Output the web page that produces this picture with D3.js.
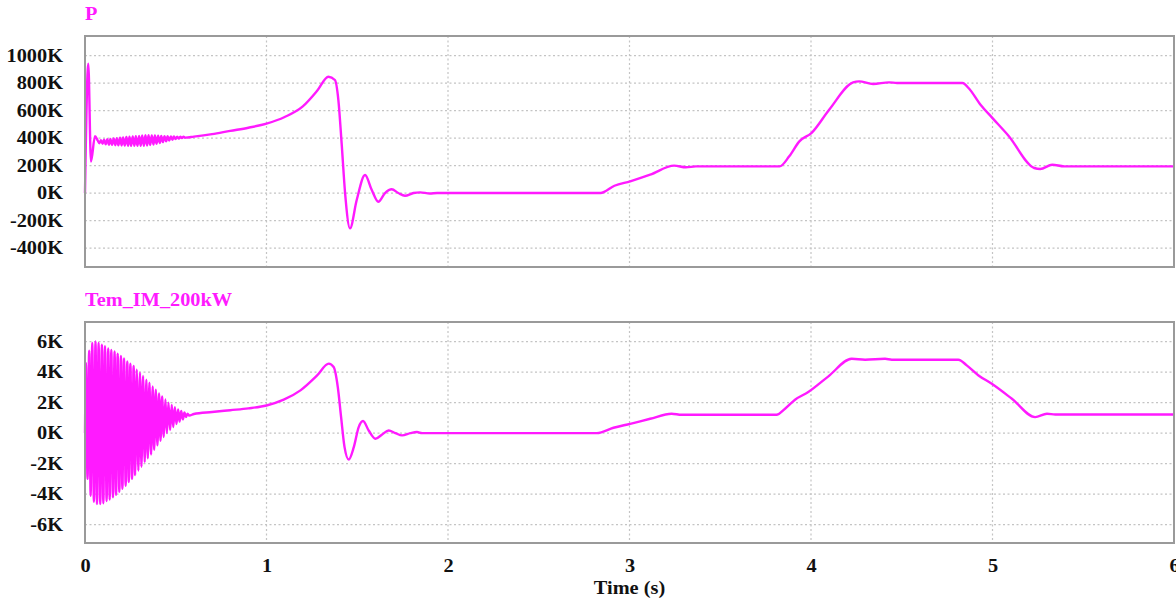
<!DOCTYPE html>
<html>
<head>
<meta charset="utf-8">
<script src="https://cdn.jsdelivr.net/npm/d3@7"></script>
<style>
  html, body { margin: 0; padding: 0; background: #ffffff; }
  svg { display: block; }
  text { font-family: "Liberation Serif", "Times New Roman", serif; font-weight: bold; }
</style>
</head>
<body>
<svg id="chart" width="1176" height="601"></svg>
<script>
// ---- time axis ----
const timeTicks = [0, 1, 2, 3, 4, 5, 6];

// ---- P (W): start-up spike ----
const pStartT = [0, 0.018, 0.033, 0.055];
const pStartV = [0, 940000, 229000, 414000];

// ---- P: ripple extremes during start-up ----
const pRippleT = [0.070, 0.079, 0.088, 0.097, 0.105, 0.114, 0.123, 0.132, 0.140, 0.149,
                  0.158, 0.167, 0.175, 0.184, 0.193, 0.202, 0.210, 0.219, 0.228, 0.237,
                  0.245, 0.254, 0.263, 0.272, 0.280, 0.289, 0.298, 0.307, 0.315, 0.324,
                  0.333, 0.342, 0.350, 0.359, 0.368, 0.377, 0.385, 0.394, 0.403, 0.412,
                  0.420, 0.429, 0.438, 0.447, 0.455, 0.464, 0.473, 0.482, 0.490, 0.499,
                  0.508, 0.517, 0.525, 0.534, 0.543, 0.552];
const pRippleV = [382, 362, 385, 358, 388, 355, 391, 352, 394, 350,
                  397, 348, 399, 347, 402, 346, 404, 345, 407, 344,
                  409, 344, 412, 343, 414, 343, 416, 343, 418, 344,
                  420, 346, 420, 349, 419, 353, 418, 358, 417, 364,
                  415, 370, 413, 376, 413, 382, 412, 388, 411, 392,
                  410, 396, 409, 400, 409, 403].map(v => v * 1000);

// ---- P: remainder of the run ----
const pMainT = [0.60, 0.70, 0.80, 0.90, 1.00, 1.10, 1.20, 1.28, 1.341, 1.377, 1.396, 1.414,
                1.433, 1.460, 1.497, 1.543, 1.580, 1.616, 1.653, 1.690, 1.726, 1.763, 1.810,
                1.846, 1.900, 1.940, 2.840, 2.917, 3.004, 3.114, 3.246, 3.311, 3.366, 3.827,
                3.880, 3.936, 4.002, 4.100, 4.232, 4.265, 4.342, 4.430, 4.474, 4.835, 4.868,
                4.934, 5.000, 5.088, 5.230, 5.263, 5.329, 5.395, 6.000];
const pMainV = [410, 428, 452, 475, 505, 553, 630, 745, 846, 822, 676, 361,
                0, -257, -51, 131, 22, -63, 0, 27, 0, -20, 0,
                5, -3, 0, 0, 53, 85, 133, 199, 187, 194, 194,
                267, 376, 436, 606, 805, 812, 793, 805, 800, 800, 764,
                642, 545, 417, 182, 175, 206, 194, 194].map(v => v * 1000);

// ---- Tem_IM_200kW (N·m): start-up oscillation extremes ----
const temOscT = [0, 0.005, 0.014, 0.023, 0.031, 0.040, 0.049, 0.058, 0.066, 0.075, 0.084,
                 0.093, 0.101, 0.110, 0.119, 0.128, 0.136, 0.145, 0.154, 0.163, 0.171,
                 0.180, 0.189, 0.198, 0.206, 0.215, 0.224, 0.233, 0.241, 0.250, 0.259,
                 0.268, 0.276, 0.285, 0.294, 0.303, 0.311, 0.320, 0.329, 0.338, 0.346,
                 0.355, 0.364, 0.373, 0.381, 0.390, 0.399, 0.408, 0.416, 0.425, 0.434,
                 0.443, 0.451, 0.460, 0.469, 0.478, 0.486, 0.495, 0.504, 0.513, 0.521,
                 0.530, 0.539, 0.548, 0.556, 0.565, 0.574];
const temOscV = [0, 4.6, -3.0, 5.4, -4.1, 5.9, -4.5, 6.0, -4.65, 5.9, -4.65,
                 5.8, -4.6, 5.7, -4.45, 5.55, -4.35, 5.45, -4.2, 5.35, -4.05,
                 5.2, -3.85, 5.05, -3.65, 4.9, -3.45, 4.7, -3.2, 4.55, -3.0,
                 4.4, -2.75, 4.15, -2.45, 3.95, -2.2, 3.75, -1.9, 3.5, -1.65,
                 3.3, -1.4, 3.05, -1.1, 2.85, -0.8, 2.6, -0.5, 2.4, -0.25,
                 2.2, 0.0, 2.0, 0.2, 1.85, 0.4, 1.7, 0.6, 1.55, 0.75,
                 1.45, 0.9, 1.35, 1.05, 1.28, 1.15].map(v => v * 1000);

// ---- Tem_IM_200kW: remainder of the run ----
const temMainT = [0.60, 0.70, 0.80, 0.90, 1.00, 1.095, 1.187, 1.279, 1.343, 1.370, 1.393,
                  1.411, 1.430, 1.453, 1.481, 1.508, 1.532, 1.563, 1.600, 1.637, 1.673,
                  1.710, 1.747, 1.793, 1.829, 1.857, 2.820, 2.912, 3.004, 3.114, 3.232,
                  3.287, 3.810, 3.857, 3.912, 3.985, 4.096, 4.224, 4.298, 4.408, 4.445,
                  4.812, 4.858, 4.923, 4.996, 5.107, 5.235, 5.300, 5.346, 6.000];
const temMainV = [1.25, 1.38, 1.50, 1.62, 1.81, 2.19, 2.80, 3.78, 4.55, 4.33, 3.0,
                  1.05, -0.92, -1.73, -0.92, 0.39, 0.79, 0.17, -0.37, -0.09, 0.17,
                  0, -0.15, 0, 0.07, 0, 0, 0.35, 0.61, 0.94, 1.27,
                  1.20, 1.20, 1.60, 2.19, 2.69, 3.72, 4.87, 4.81, 4.87, 4.81,
                  4.81, 4.44, 3.78, 3.23, 2.25, 1.05, 1.27, 1.22, 1.22].map(v => v * 1000);

// ---- y tick values ----
const pTicks = [-400000, -200000, 0, 200000, 400000, 600000, 800000, 1000000];
const temTicks = [-6000, -4000, -2000, 0, 2000, 4000, 6000];

const zip = (ts, vs) => ts.map((t, i) => ({ t, v: vs[i] }));
const pSeries = [].concat(zip(pStartT, pStartV), zip(pRippleT, pRippleV), zip(pMainT, pMainV));
const temSeries = [].concat(zip(temOscT, temOscV), zip(temMainT, temMainV));

const svg = d3.select("#chart");
const left = 85, right = 1174;
const lineColor = "#ff1aff";
const widen = 1.13;   // the labels use a slightly wide bold serif

const x = d3.scaleLinear().domain([0, 6]).range([left, right]);

const panels = [
  { title: "P", data: pSeries, ticks: pTicks, top: 36, bottom: 267,
    domain: [-538000, 1142000] },
  { title: "Tem_IM_200kW", data: temSeries, ticks: temTicks, top: 322, bottom: 543,
    domain: [-7200, 7280] }
];

const fmtK = d => (d / 1000) + "K";

panels.forEach((p, idx) => {
  const y = d3.scaleLinear().domain(p.domain).range([p.bottom, p.top]);
  const g = svg.append("g");

  // dotted grid
  g.append("g").selectAll("line.h").data(p.ticks).join("line")
    .attr("x1", left).attr("x2", right)
    .attr("y1", d => y(d)).attr("y2", d => y(d))
    .attr("stroke", "#c4c4c4").attr("stroke-width", 1.2)
    .attr("stroke-dasharray", "2,2.5");
  g.append("g").selectAll("line.v").data(timeTicks.slice(1, -1)).join("line")
    .attr("x1", d => x(d)).attr("x2", d => x(d))
    .attr("y1", p.top).attr("y2", p.bottom)
    .attr("stroke", "#c4c4c4").attr("stroke-width", 1.2)
    .attr("stroke-dasharray", "2,2.5");

  // y axis labels
  const yAxis = d3.axisLeft(y).tickValues(p.ticks).tickSize(0).tickPadding(19.5).tickFormat(fmtK);
  const ya = g.append("g").attr("transform", `translate(${left},0)`).call(yAxis);
  ya.select(".domain").remove();
  ya.selectAll("text")
    .style("font-family", "'Liberation Serif', serif")
    .style("font-weight", "bold")
    .style("font-size", "18px")
    .attr("fill", "#111")
    .attr("transform", `scale(${widen},1)`);

  // signal trace
  const line = d3.line()
    .x(d => x(d.t)).y(d => y(d.v))
    .curve(d3.curveMonotoneX);
  g.append("path").datum(p.data)
    .attr("d", line)
    .attr("fill", "none")
    .attr("stroke", lineColor)
    .attr("stroke-width", 2.4)
    .attr("stroke-linejoin", "round");

  // frame
  g.append("rect")
    .attr("x", left).attr("y", p.top)
    .attr("width", right - left).attr("height", p.bottom - p.top)
    .attr("fill", "none").attr("stroke", "#9a9a9a").attr("stroke-width", 2);

  // trace title
  g.append("text")
    .attr("transform", `translate(${left},${p.top - 16}) scale(${widen},1)`)
    .attr("fill", lineColor)
    .style("font-size", "18px")
    .text(p.title);

  if (idx === 1) {
    const xAxis = d3.axisBottom(x).tickValues(timeTicks).tickSize(0).tickPadding(16)
      .tickFormat(d3.format("d"));
    const xa = g.append("g").attr("transform", `translate(0,${p.bottom})`).call(xAxis);
    xa.select(".domain").remove();
    xa.selectAll("text")
      .style("font-family", "'Liberation Serif', serif")
      .style("font-weight", "bold")
      .style("font-size", "18px")
      .attr("fill", "#111")
      .attr("transform", `scale(${widen},1)`);
    svg.append("text")
      .attr("transform", `translate(${(left + right) / 2},594) scale(${widen},1)`)
      .attr("text-anchor", "middle")
      .attr("fill", "#111")
      .style("font-size", "18px")
      .text("Time (s)");
  }
});
</script>
</body>
</html>
